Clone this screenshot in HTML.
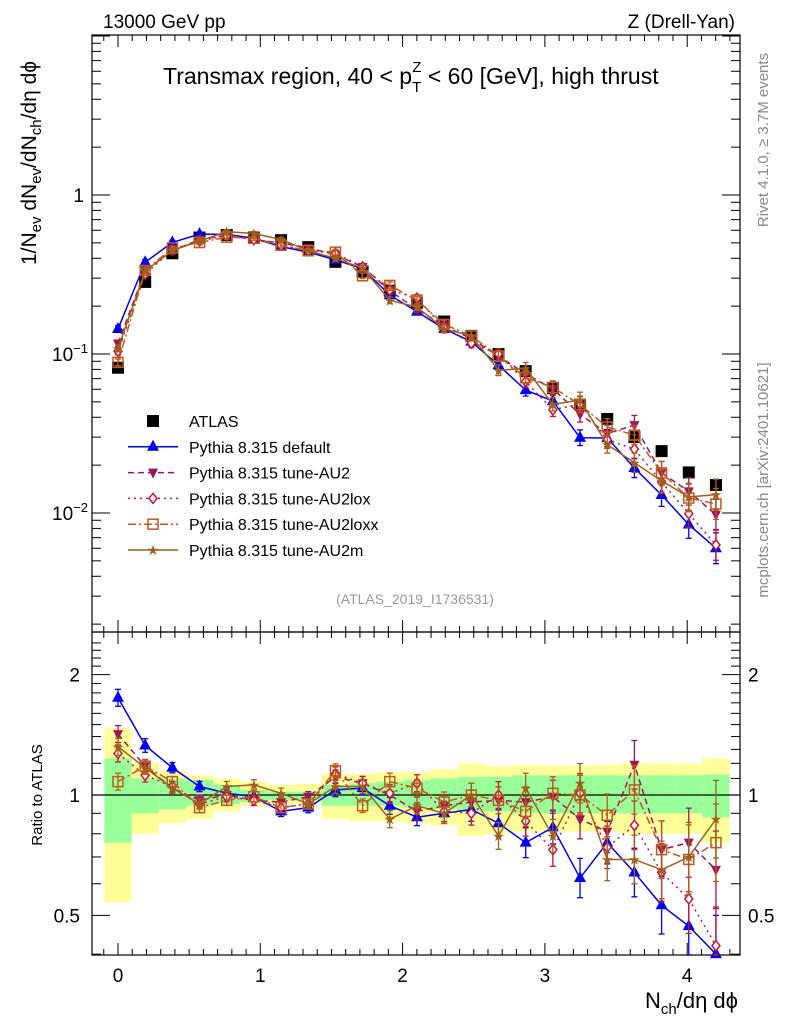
<!DOCTYPE html>
<html><head><meta charset="utf-8"><style>
body{margin:0;background:#fff;}
svg{font-family:"Liberation Sans",sans-serif;}
</style></head><body>
<svg id="c" width="786" height="1024" viewBox="0 0 786 1024" xmlns="http://www.w3.org/2000/svg">
<rect x="0" y="0" width="786" height="1024" fill="#fff"/>
<g id="bands"></g>
<g id="frames"></g>
<g id="series"></g>
<g id="labels"></g>
</svg>
<script>
const xStep = 0.191;
const atlas = [0.082,0.284,0.43,0.54,0.56,0.54,0.52,0.47,0.38,0.33,0.25,0.21,0.16,0.13,0.10,0.078,0.061,0.048,0.039,0.030,0.0245,0.018,0.015];
const rDefault = [1.75,1.33,1.17,1.05,1.01,0.99,0.91,0.93,1.03,1.04,0.94,0.88,0.90,0.92,0.85,0.76,0.83,0.62,0.76,0.64,0.53,0.47,0.40];
const rAU2 = [1.42,1.18,1.04,0.97,1.0,0.97,0.96,0.99,1.11,1.07,1.0,0.91,0.94,0.96,0.97,0.96,0.99,0.87,0.81,1.19,0.73,0.76,0.65];
const rAU2lox = [1.27,1.12,1.05,0.95,0.99,0.97,0.93,0.95,1.13,1.07,1.01,1.07,0.91,0.90,1.0,0.86,0.73,1.01,0.74,0.84,0.64,0.55,0.42];
const rAU2loxx = [1.08,1.18,1.08,0.93,0.97,0.99,0.93,0.95,1.15,0.94,1.08,1.04,0.96,1.0,0.97,0.91,1.01,1.0,0.89,1.03,0.73,0.69,0.76];
const rAU2m = [1.32,1.17,1.04,0.95,1.05,1.06,1.01,0.95,1.05,1.05,0.87,0.94,0.90,1.0,0.79,1.04,0.79,1.07,0.69,0.69,0.65,0.70,0.87];
const relErr = [0.05,0.04,0.03,0.03,0.03,0.03,0.03,0.03,0.04,0.04,0.05,0.05,0.06,0.07,0.08,0.09,0.10,0.12,0.13,0.15,0.18,0.22,0.25];
const greenUp = [1.235,1.10,1.10,1.09,1.06,1.03,1.02,1.02,1.06,1.07,1.08,1.09,1.10,1.11,1.11,1.12,1.12,1.12,1.12,1.12,1.12,1.12,1.125];
const greenDn = [0.76,0.90,0.92,0.94,0.95,0.96,0.97,0.97,0.94,0.94,0.94,0.93,0.92,0.91,0.91,0.90,0.90,0.90,0.90,0.90,0.90,0.90,0.88];
const yellowUp = [1.47,1.20,1.15,1.12,1.10,1.08,1.06,1.065,1.13,1.13,1.14,1.14,1.16,1.20,1.18,1.19,1.185,1.185,1.19,1.20,1.20,1.20,1.235];
const yellowDn = [0.54,0.80,0.85,0.87,0.91,0.94,0.95,0.95,0.87,0.86,0.86,0.85,0.84,0.79,0.80,0.81,0.81,0.81,0.81,0.80,0.80,0.80,0.76];
const xTicks = [0,1,2,3,4];

const NS="http://www.w3.org/2000/svg";
const L=92,R=740,T=35,MB=632,RB=955;
const X=v=>118+v*142.3;
const Ym=v=>195-159*Math.log10(v);
const Yr=v=>795-400*Math.log10(v);
function mk(parent,tag,attrs){const e=document.createElementNS(NS,tag);for(const k in attrs)e.setAttribute(k,attrs[k]);document.getElementById(parent).appendChild(e);return e;}
function txt(parent,x,y,s,attrs){const e=mk(parent,'text',Object.assign({x:x,y:y},attrs||{}));e.innerHTML=s;return e;}

for(let i=0;i<atlas.length;i++){
  const x0=Math.max(L+10,X((i-0.5)*xStep)), x1=Math.min(R-10,X((i+0.5)*xStep));
  let b=mk('bands','rect',{x:x0,y:Yr(yellowUp[i]),width:x1-x0,height:Yr(yellowDn[i])-Yr(yellowUp[i]),fill:'#ffff99'});
  
  
  let g=mk('bands','rect',{x:x0,y:Yr(greenUp[i]),width:x1-x0,height:Yr(greenDn[i])-Yr(greenUp[i]),fill:'#99ff99'});
  
  
}
let f1=mk('frames','rect',{x:L,y:T,width:R-L,height:MB-T,fill:'none',stroke:'#000','stroke-width':1.2});


let f2=mk('frames','rect',{x:L,y:MB,width:R-L,height:RB-MB,fill:'none',stroke:'#000','stroke-width':1.2});


let ol=mk('frames','line',{x1:L,x2:R,y1:Yr(1),y2:Yr(1),stroke:'#000','stroke-width':1.3});


function tick(x1,y1,x2,y2){mk('frames','line',{x1,y1,x2,y2,stroke:'#000','stroke-width':1});}
for(let v=-0.1;v<=4.35;v+=0.1){const vv=Math.round(v*10)/10;if(X(vv)<L||X(vv)>R)continue;const major=Math.abs(vv-Math.round(vv))<1e-6;const len=major?12:6;
  tick(X(vv),MB,X(vv),MB-len);tick(X(vv),T,X(vv),T+len);tick(X(vv),RB,X(vv),RB-len);tick(X(vv),MB,X(vv),MB+len);}
xTicks.forEach(v=>{const t=txt('labels',X(v),982,v,{'font-size':19,'text-anchor':'middle'});});
for(let d=-3;d<=1;d++)for(let m=1;m<10;m++){const v=m*Math.pow(10,d);const y=Ym(v);if(y<T||y>MB)continue;const len=m==1?18:9;tick(L,y,L+len,y);tick(R,y,R-len,y);}
[[1,'1'],[0.1,'10<tspan dy="-8" font-size="13">−1</tspan>'],[0.01,'10<tspan dy="-8" font-size="13">−2</tspan>']].forEach(p=>{const t=txt('labels',p[0]==1?84:70,Ym(p[0])+7,p[1],{'font-size':19,'text-anchor':p[0]==1?'end':'middle'});});
for(let v=0.4;v<=2.5;v+=0.1){const vv=Math.round(v*10)/10;const y=Yr(vv);if(y<MB||y>RB)continue;const major=(vv==0.5||vv==1||vv==2);const len=major?18:9;tick(L,y,L+len,y);tick(R,y,R-len,y);}
[[2,'2'],[1,'1'],[0.5,'0.5']].forEach(p=>{let t=txt('labels',80,Yr(p[0])+7,p[1],{'font-size':19,'text-anchor':'end'});
 t=txt('labels',748,Yr(p[0])+7,p[1],{'font-size':19});});

const series=[
 {name:'default',r:rDefault,color:'#0000ee',dash:'',marker:'tri'},
 {name:'tune-au2',r:rAU2,color:'#a0145a',dash:'6,4',marker:'tridown'},
 {name:'tune-au2lox',r:rAU2lox,color:'#c8143c',dash:'2,4',marker:'diamond'},
 {name:'tune-au2loxx',r:rAU2loxx,color:'#c05a1a',dash:'8,3,2,3',marker:'square'},
 {name:'tune-au2m',r:rAU2m,color:'#a0601a',dash:'',marker:'star'}
];
function marker(g,type,x,y,c){
  let e;
  if(type=='tri')e=mk(g,'path',{d:`M${x},${y-7}L${x+6},${y+4}L${x-6},${y+4}Z`,fill:c});
  else if(type=='tridown')e=mk(g,'path',{d:`M${x},${y+6}L${x+5},${y-4}L${x-5},${y-4}Z`,fill:c});
  else if(type=='diamond')e=mk(g,'path',{d:`M${x},${y-5}L${x+4},${y}L${x},${y+5}L${x-4},${y}Z`,fill:'#fff',stroke:c,'stroke-width':1.5});
  else if(type=='square')e=mk(g,'rect',{x:x-5,y:y-5,width:10,height:10,fill:'none',stroke:c,'stroke-width':1.5});
  else if(type=='star')e=mk(g,'text',{x:x,y:y+5,'text-anchor':'middle','font-size':14,fill:c});
  if(type=='star')e.textContent='★';
  else if(type=='atlas')e=mk(g,'rect',{x:x-6,y:y-6,width:12,height:12,fill:'#000'});
  return e;
}
function drawSeries(s,main){
  const Y=main?Ym:Yr;
  const vals=s.r.map((r,i)=>main?r*atlas[i]:r);
  const pts=vals.map((v,i)=>[X(i*xStep),Y(v)]);
  const cl=main?(y=>y):(y=>Math.min(Math.max(y,MB),RB));
  const ln=mk('series','polyline',{points:pts.map(p=>p[0]+','+cl(p[1])).join(' '),fill:'none',stroke:s.color,'stroke-width':1.5,'stroke-dasharray':s.dash});
  
  
  vals.forEach((v,i)=>{const x=X(i*xStep);const y1=cl(Y(v*(1+relErr[i]))),y2=cl(Y(v/(1+relErr[i])));
    mk('series','line',{x1:x,x2:x,y1:y1,y2:y2,stroke:s.color,'stroke-width':1.3});
    mk('series','line',{x1:x-3,x2:x+3,y1:y1,y2:y1,stroke:s.color,'stroke-width':1.3});
    mk('series','line',{x1:x-3,x2:x+3,y1:y2,y2:y2,stroke:s.color,'stroke-width':1.3});
    if(main||(Y(v)>=MB-2&&Y(v)<=RB+2)){const m=marker('series',s.marker,x,Y(v),s.color);
    
    }
  });
}
atlas.forEach((v,i)=>{const m=marker('series','atlas',X(i*xStep),Ym(v),'#000');
 
 });
series.forEach(s=>{drawSeries(s,true);drawSeries(s,false);});

const leg=[['ATLAS',null],['Pythia 8.315 default',series[0]],['Pythia 8.315 tune-AU2',series[1]],['Pythia 8.315 tune-AU2lox',series[2]],['Pythia 8.315 tune-AU2loxx',series[3]],['Pythia 8.315 tune-AU2m',series[4]]];
leg.forEach((l,k)=>{const y=421+k*25.8;
  if(l[1]){const ln=mk('labels','line',{x1:128,x2:178,y1:y,y2:y,stroke:l[1].color,'stroke-width':1.5,'stroke-dasharray':l[1].dash});marker('labels',l[1].marker,153,y,l[1].color);}
  else marker('labels','atlas',153,y,'#000');
  const t=txt('labels',189,y+6,l[0],{'font-size':16});
  
  
});
</script>
<div style="position:absolute;left:0;top:0;width:786px;height:1024px;pointer-events:none">
<svg width="786" height="1024" style="font-family:'Liberation Sans',sans-serif">
<text x="103" y="28" font-size="19">13000 GeV pp</text>
<text x="735" y="28" font-size="19" text-anchor="end">Z (Drell-Yan)</text>
<text x="163" y="84" font-size="23">Transmax region, 40 &lt; p<tspan dy="8" font-size="15">T</tspan><tspan dy="-20" dx="-9" font-size="15">Z</tspan><tspan dy="12"> &lt; 60 [GeV], high thrust</tspan></text>
<text x="415" y="604" font-size="14" fill="#999" text-anchor="middle">(ATLAS_2019_I1736531)</text>
<text transform="translate(768,140) rotate(-90)" font-size="15" fill="#888" text-anchor="middle">Rivet 4.1.0, ≥ 3.7M events</text>
<text transform="translate(768,480) rotate(-90)" font-size="15" fill="#888" text-anchor="middle">mcplots.cern.ch [arXiv:2401.10621]</text>
<text transform="translate(36,265) rotate(-90)" font-size="21" text-anchor="start">1/N<tspan font-size="15" dy="5">ev</tspan><tspan dy="-5"> dN</tspan><tspan font-size="15" dy="5">ev</tspan><tspan dy="-5">/dN</tspan><tspan font-size="15" dy="5">ch</tspan><tspan dy="-5">/dη dϕ</tspan></text>
<text transform="translate(42,795) rotate(-90)" font-size="15" text-anchor="middle">Ratio to ATLAS</text>
<text x="738" y="1008" font-size="22" text-anchor="end">N<tspan font-size="15" dy="6">ch</tspan><tspan dy="-6">/dη dϕ</tspan></text>
</svg></div>
</body></html>
